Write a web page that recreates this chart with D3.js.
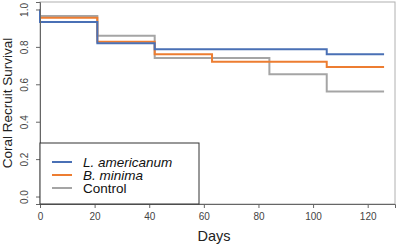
<!DOCTYPE html>
<html>
<head>
<meta charset="utf-8">
<script src="https://cdn.jsdelivr.net/npm/d3@7"></script>
<style>
  body { margin: 0; background: #fff; }
  text { font-family: "Liberation Sans", Arial, sans-serif; }
</style>
</head>
<body>
<svg id="chart"></svg>
<script>
// step times (days) and survival per group
const days = [0, 21, 42, 63, 84, 105, 126];
const lAmericanum = [0.933, 0.82, 0.787, 0.787, 0.787, 0.76, 0.76];
const bMinima = [0.956, 0.828, 0.761, 0.72, 0.72, 0.692, 0.692];
const control = [0.965, 0.86, 0.74, 0.74, 0.654, 0.562, 0.562];

const seriesNames = ["L. americanum", "B. minima", "Control"];
const seriesColors = ["#4a70b5", "#ed7d31", "#a5a5a5"];
const xTicks = [0, 20, 40, 60, 80, 100, 120];
const yTicks = [0, 0.2, 0.4, 0.6, 0.8, 1.0];

const width = 400, height = 245;
const mLeft = 40, mRight = 395, mTop = 2, mBottom = 204;

const svg = d3.select('#chart').attr('width', width).attr('height', height);

const x = d3.scaleLinear().domain([0, 130]).range([mLeft, mRight]);
const y = d3.scaleLinear().domain([-0.04, 1.04]).range([mBottom, mTop]);

// light frame round the plot
svg.append('rect')
  .attr('x', mLeft).attr('y', mTop)
  .attr('width', mRight - mLeft).attr('height', mBottom - mTop)
  .attr('fill', 'none').attr('stroke', '#b0b0b0').attr('stroke-width', 1);

// survival curves, each starts at 1 at day 0
const allSeries = [lAmericanum, bMinima, control];
const line = d3.line()
  .x(d => x(d[0]))
  .y(d => y(d[1]))
  .curve(d3.curveStepAfter);

// draw control first so the coloured ones sit on top
[2, 1, 0].forEach(i => {
  const pts = [[0, 1]].concat(days.map((d, j) => [d, allSeries[i][j]]));
  svg.append('path')
    .attr('d', line(pts))
    .attr('fill', 'none')
    .attr('stroke', seriesColors[i])
    .attr('stroke-width', 2);
});

// axes
const xAxis = svg.append('g')
  .attr('transform', `translate(0,${mBottom})`)
  .call(d3.axisBottom(x).tickValues(xTicks).tickSize(4).tickPadding(5).tickFormat(d3.format('d')));
const yAxis = svg.append('g')
  .attr('transform', `translate(${mLeft},0)`)
  .call(d3.axisLeft(y).tickValues(yTicks).tickSize(4).tickPadding(3).tickFormat(d3.format('.1f')));

[xAxis, yAxis].forEach(a => {
  a.select('.domain').attr('stroke', '#666');
  a.selectAll('.tick line').attr('stroke', '#666');
  a.selectAll('.tick text').attr('fill', '#444').style('font-size', '10px');
});
// R style: y labels run along the axis
yAxis.selectAll('.tick text')
  .attr('x', null).attr('dy', null)
  .attr('transform', 'translate(-12,0) rotate(-90)')
  .style('text-anchor', 'middle');

// axis titles
svg.append('text')
  .attr('x', 214).attr('y', 241)
  .attr('text-anchor', 'middle')
  .style('font-size', '14.5px').attr('fill', '#222')
  .text('Days');
svg.append('text')
  .attr('transform', `translate(12,${(mTop + mBottom) / 2}) rotate(-90)`)
  .attr('text-anchor', 'middle')
  .style('font-size', '13.5px').attr('fill', '#222')
  .text('Coral Recruit Survival');

// legend
const lg = svg.append('g');
lg.append('rect')
  .attr('x', mLeft).attr('y', 143)
  .attr('width', 159).attr('height', mBottom - 143)
  .attr('fill', '#fff').attr('stroke', '#333').attr('stroke-width', 1);
seriesNames.forEach((n, i) => {
  const ly = 162 + i * 13;
  lg.append('line')
    .attr('x1', 52).attr('x2', 72).attr('y1', ly).attr('y2', ly)
    .attr('stroke', seriesColors[i]).attr('stroke-width', 2);
  lg.append('text')
    .attr('x', 83).attr('y', ly + 4.5)
    .style('font-size', '13.5px')
    .style('font-style', i < 2 ? 'italic' : 'normal')
    .attr('fill', '#111')
    .text(n);
});
</script>
</body>
</html>
